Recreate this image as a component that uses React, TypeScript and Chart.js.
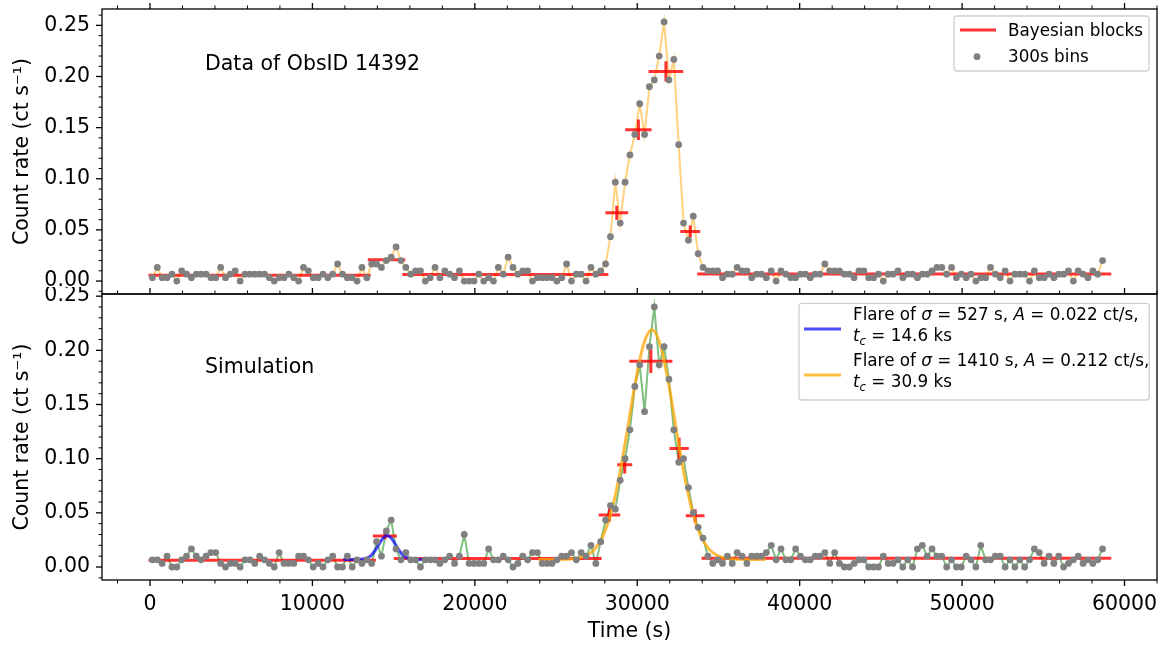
import React, { useEffect, useRef } from "react";
import { Chart, registerables } from "chart.js";

Chart.register(...registerables);

// ---------------- data ----------------
const BIN_START = 150; // s, centre of first 300 s bin
const BIN_WIDTH = 300; // s

// counts per 300 s bin, ObsID 14392
const topCounts = [
  1, 4, 1, 1, 2, 0, 3, 2, 1, 2,
  2, 2, 1, 1, 4, 1, 2, 3, 0, 2,
  2, 2, 2, 2, 1, 0, 1, 1, 2, 1,
  0, 4, 3, 1, 1, 2, 1, 2, 5, 2,
  1, 1, 0, 4, 1, 5, 5, 4, 6, 7,
  10, 6, 4, 2, 3, 3, 0, 1, 4, 1,
  3, 2, 1, 3, 0, 0, 0, 2, 0, 1,
  0, 4, 2, 7, 4, 2, 3, 3, 0, 1,
  1, 1, 1, 0, 1, 5, 0, 2, 2, 0,
  4, 2, 3, 5, 13, 29, 17, 29, 37, 43,
  52, 43, 57, 59, 66, 76, 59, 65, 40, 17,
  12, 19, 8, 4, 3, 3, 3, 1, 2, 2,
  4, 3, 3, 1, 2, 2, 1, 3, 0, 3,
  2, 1, 1, 2, 2, 1, 2, 2, 5, 3,
  3, 3, 2, 2, 1, 3, 3, 1, 1, 2,
  0, 2, 2, 3, 1, 2, 2, 1, 2, 2,
  3, 4, 4, 2, 4, 1, 2, 1, 2, 0,
  1, 1, 4, 2, 1, 3, 0, 2, 2, 2,
  0, 3, 1, 1, 2, 1, 2, 2, 3, 0,
  3, 2, 1, 3, 2, 6,
];

// counts per 300 s bin, simulation
const bottomCounts = [
  2, 2, 1, 3, 0, 0, 2, 3, 5, 3,
  2, 3, 4, 4, 1, 0, 1, 1, 0, 2,
  2, 1, 3, 2, 1, 0, 4, 1, 1, 1,
  3, 3, 2, 0, 1, 0, 2, 3, 0, 0,
  3, 0, 2, 1, 2, 1, 7, 3, 10, 13,
  5, 2, 4, 2, 2, 0, 2, 2, 2, 1,
  2, 3, 1, 3, 9, 1, 1, 1, 1, 5,
  2, 2, 3, 2, 0, 1, 3, 2, 4, 4,
  1, 1, 1, 2, 3, 3, 4, 2, 4, 3,
  6, 1, 7, 13, 17, 16, 24, 30, 38, 50,
  56, 43, 61, 72, 56, 61, 52, 38, 29, 30,
  22, 15, 11, 8, 3, 1, 2, 1, 3, 1,
  4, 3, 1, 3, 3, 3, 4, 6, 2, 5,
  2, 2, 5, 3, 2, 2, 3, 3, 4, 1,
  4, 1, 0, 0, 1, 2, 2, 0, 0, 0,
  3, 1, 1, 2, 0, 2, 0, 5, 6, 3,
  5, 3, 3, 0, 2, 0, 0, 3, 2, 0,
  6, 2, 2, 3, 3, 0, 2, 0, 2, 0,
  2, 5, 4, 1, 3, 1, 3, 0, 1, 2,
  3, 1, 2, 1, 2, 5,
];

// Bayesian blocks (top)
const topBlockEdges = [0, 13500, 15630, 28130, 29350, 30790, 32740, 33785, 59090];
const topBlockRates = [0.0057, 0.0207, 0.0063, 0.0667, 0.148, 0.205, 0.0484, 0.007];
const topBlockErrs = [0.0006, 0.002, 0.0006, 0.007, 0.0100, 0.0100, 0.006, 0.0005];

// Bayesian blocks (bottom)
const bottomBlockEdges = [0, 13815, 15105, 27720, 28860, 29600, 32075, 33080, 34050, 59090];
const bottomBlockRates = [0.0062, 0.0287, 0.0078, 0.048, 0.0944, 0.19, 0.1093, 0.0472, 0.008];
const bottomBlockErrs = [0.0006, 0.003, 0.0006, 0.006, 0.008, 0.011, 0.01, 0.006, 0.0005];

// fitted flare curves
const blueFlareT = [11900, 12600, 13100, 13350, 13600, 13850, 14100, 14350, 14600, 14850, 15100, 15350, 15600, 15850, 16100, 16600, 16800];
const blueFlareRate = [0.007, 0.007, 0.0074, 0.0083, 0.0106, 0.015, 0.021, 0.0267, 0.029, 0.0267, 0.021, 0.015, 0.0106, 0.0083, 0.0074, 0.007, 0.007];
const orangeFlareT = [23900, 24900, 25900, 26400, 26900, 27400, 27900, 28400, 28900, 29400, 29900, 30400, 30900, 31400, 31900, 32400, 32900, 33400, 33900, 34400, 34900, 35400, 35900, 36900, 37900];
const orangeFlareRate = [0.007, 0.007, 0.0074, 0.0083, 0.0108, 0.0167, 0.029, 0.051, 0.0845, 0.1274, 0.1719, 0.2061, 0.219, 0.2061, 0.1719, 0.1274, 0.0845, 0.051, 0.029, 0.0167, 0.0108, 0.0083, 0.0074, 0.007, 0.007];

// ticks
const xTicks = [0, 10000, 20000, 30000, 40000, 50000, 60000];
const yTicks = [0, 0.05, 0.1, 0.15, 0.2, 0.25];

// texts
const Y_TITLE = "Count rate (ct s\u207B\u00B9)";
const X_TITLE = "Time (s)";
const TOP_NOTE = "Data of ObsID 14392";
const BOTTOM_NOTE = "Simulation";
const LEGEND_BLOCKS = "Bayesian blocks";
const LEGEND_BINS = "300s bins";

// ---------------- layout / style ----------------
const X_MIN = -2955;
const X_MAX = 62000;
const TOP_Y = [-0.01267, 0.266];
const BOT_Y = [-0.012, 0.252];
const BOT_OFFSET = 287;
const FS = 20.5;
const LFS = 16.8;
const FAMILY = '"DejaVu Sans", "Liberation Sans", sans-serif';

const RED = "rgba(255,0,0,0.8)";
const GRAY = "rgb(128,128,128)";
const ORANGE_LINE = "rgba(255,165,0,0.5)";
const GREEN_LINE = "rgba(0,128,0,0.5)";
const BLUE_FIT = "rgba(0,0,255,0.7)";
const ORANGE_FIT = "rgba(255,165,0,0.75)";

Chart.defaults.font.family = FAMILY;
Chart.defaults.color = "#000";

function binPoints(counts: number[]) {
  return counts.map((c, i) => ({ x: BIN_START + i * BIN_WIDTH, y: c / BIN_WIDTH }));
}
function blockLine(edges: number[], rates: number[]) {
  const d: any[] = [];
  rates.forEach((r, i) => {
    d.push({ x: edges[i], y: r }, { x: edges[i + 1], y: r }, { x: edges[i + 1], y: null });
  });
  return d;
}
function blockErr(edges: number[], rates: number[], errs: number[]) {
  const d: any[] = [];
  rates.forEach((r, i) => {
    const c = (edges[i] + edges[i + 1]) / 2;
    d.push({ x: c, y: r - errs[i] }, { x: c, y: r + errs[i] }, { x: c, y: null });
  });
  return d;
}
function curve(t: number[], v: number[]) {
  return t.map((x, i) => ({ x, y: v[i] }));
}

type Run = { t: string; it?: boolean; sub?: boolean };
function drawRuns(ctx: CanvasRenderingContext2D, x: number, y: number, runs: Run[], size: number) {
  let cx = x;
  for (const r of runs) {
    const s = r.sub ? size * 0.7 : size;
    ctx.font = `${r.it ? "italic " : ""}${s}px ${FAMILY}`;
    ctx.fillText(r.t, cx, r.sub ? y + size * 0.22 : y);
    cx += ctx.measureText(r.t).width;
  }
}
function legendBox(ctx: CanvasRenderingContext2D, x: number, y: number, w: number, h: number) {
  const r = 3;
  ctx.beginPath();
  ctx.moveTo(x + r, y);
  ctx.lineTo(x + w - r, y);
  ctx.quadraticCurveTo(x + w, y, x + w, y + r);
  ctx.lineTo(x + w, y + h - r);
  ctx.quadraticCurveTo(x + w, y + h, x + w - r, y + h);
  ctx.lineTo(x + r, y + h);
  ctx.quadraticCurveTo(x, y + h, x, y + h - r);
  ctx.lineTo(x, y + r);
  ctx.quadraticCurveTo(x, y, x + r, y);
  ctx.closePath();
  ctx.fillStyle = "rgba(255,255,255,0.8)";
  ctx.fill();
  ctx.strokeStyle = "#d0d0d0";
  ctx.lineWidth = 1.3;
  ctx.stroke();
}
function legendLine(ctx: CanvasRenderingContext2D, x1: number, x2: number, y: number, color: string) {
  ctx.strokeStyle = color;
  ctx.lineWidth = 3;
  ctx.lineCap = "butt";
  ctx.beginPath();
  ctx.moveTo(x1, y);
  ctx.lineTo(x2, y);
  ctx.stroke();
}

const mplAxes = {
  id: "mplAxes",
  afterDraw(chart: any, _args: any, opts: any) {
    const ctx: CanvasRenderingContext2D = chart.ctx;
    const a = chart.chartArea;
    const xs = chart.scales.x;
    const ys = chart.scales.y;
    ctx.save();
    ctx.strokeStyle = "#000";
    const tick = (x1: number, y1: number, x2: number, y2: number, w: number) => {
      ctx.lineWidth = w;
      ctx.beginPath();
      ctx.moveTo(x1, y1);
      ctx.lineTo(x2, y2);
      ctx.stroke();
    };
    for (let i = -2; i <= 27; i++) {
      const v = i / 100;
      if (v < ys.min || v > ys.max) continue;
      const major = i % 5 === 0;
      const p = ys.getPixelForValue(v);
      tick(a.left - (major ? 6 : 3.5), p, a.left, p, major ? 1.3 : 1);
    }
    for (let i = -1; i <= 31; i++) {
      const v = i * 2000;
      if (v < xs.min || v > xs.max) continue;
      const major = i % 5 === 0;
      const L = major ? 6 : 3.5;
      const p = xs.getPixelForValue(v);
      tick(p, a.top - L, p, a.top, major ? 1.3 : 1);
      if (opts.bottomTicks) tick(p, a.bottom, p, a.bottom + L, major ? 1.3 : 1);
    }
    ctx.lineWidth = 1.3;
    ctx.strokeRect(a.left, a.top, a.right - a.left, a.bottom - a.top);

    ctx.fillStyle = "#000";
    ctx.textBaseline = "alphabetic";
    ctx.textAlign = "left";
    if (opts.panel === "top") {
      ctx.font = `${FS}px ${FAMILY}`;
      ctx.fillText(TOP_NOTE, 205, 69.5);
      legendBox(ctx, 954, 16, 195, 55);
      legendLine(ctx, 960, 996, 30, RED);
      ctx.fillStyle = GRAY;
      ctx.beginPath();
      ctx.arc(977, 56.7, 3.4, 0, Math.PI * 2);
      ctx.fill();
      ctx.fillStyle = "#000";
      ctx.font = `${LFS}px ${FAMILY}`;
      ctx.fillText(LEGEND_BLOCKS, 1008, 36);
      ctx.fillText(LEGEND_BINS, 1008, 62);
    } else {
      const o = BOT_OFFSET;
      ctx.font = `${FS}px ${FAMILY}`;
      ctx.fillText(BOTTOM_NOTE, 205, 372.5 - o);
      legendBox(ctx, 799, 303.3 - o, 350.3, 96.7);
      legendLine(ctx, 804, 841, 329 - o, BLUE_FIT);
      legendLine(ctx, 804, 841, 375 - o, ORANGE_FIT);
      ctx.fillStyle = "#000";
      drawRuns(ctx, 853, 320 - o, [
        { t: "Flare of " }, { t: "\u03C3", it: true }, { t: " = 527 s, " },
        { t: "A", it: true }, { t: " = 0.022 ct/s," },
      ], LFS);
      drawRuns(ctx, 853, 341 - o, [{ t: "t", it: true }, { t: "c", it: true, sub: true }, { t: " = 14.6 ks" }], LFS);
      drawRuns(ctx, 853, 366 - o, [
        { t: "Flare of " }, { t: "\u03C3", it: true }, { t: " = 1410 s, " },
        { t: "A", it: true }, { t: " = 0.212 ct/s," },
      ], LFS);
      drawRuns(ctx, 853, 387 - o, [{ t: "t", it: true }, { t: "c", it: true, sub: true }, { t: " = 30.9 ks" }], LFS);
    }
    ctx.restore();
  },
};

function xScale(show: boolean) {
  return {
    type: "linear",
    min: X_MIN,
    max: X_MAX,
    display: show,
    grid: { display: false, drawTicks: false },
    border: { display: false },
    ticks: { padding: 12, autoSkip: false, maxRotation: 0, color: "#000", font: { size: FS }, callback: (v: any) => String(v) },
    afterBuildTicks: (s: any) => { s.ticks = xTicks.map((v) => ({ value: v })); },
    afterFit: (s: any) => {
      s.height = show ? 68 : 0;
      s.paddingLeft = 0;
      s.paddingRight = 0;
      s.paddingTop = 0;
      s.paddingBottom = 0;
    },
    title: { display: show, text: X_TITLE, color: "#000", font: { size: FS }, padding: { top: 0, bottom: 4 } },
  };
}
function yScale(range: number[]) {
  return {
    type: "linear",
    position: "left",
    min: range[0],
    max: range[1],
    grid: { display: false, drawTicks: false },
    border: { display: false },
    ticks: { padding: 12, autoSkip: false, color: "#000", font: { size: FS }, callback: (v: any) => Number(v).toFixed(2) },
    afterBuildTicks: (s: any) => { s.ticks = yTicks.map((v) => ({ value: v })); },
    afterFit: (s: any) => {
      s.width = 102;
      s.paddingTop = 0;
      s.paddingBottom = 0;
      s.paddingLeft = 0;
      s.paddingRight = 0;
    },
    title: { display: true, text: Y_TITLE, color: "#000", font: { size: FS }, padding: { top: 10, bottom: 0 } },
  };
}

function baseOptions(panel: string, padding: any, range: number[], showX: boolean) {
  return {
    animation: false,
    responsive: false,
    maintainAspectRatio: false,
    devicePixelRatio: 1,
    events: [],
    layout: { padding },
    plugins: {
      legend: { display: false },
      tooltip: { enabled: false },
      mplAxes: { panel, bottomTicks: showX },
    },
    scales: { x: xScale(showX), y: yScale(range) },
  };
}

function pointsDs(counts: number[]) {
  return {
    data: binPoints(counts),
    showLine: false,
    pointRadius: 3.4,
    pointBackgroundColor: GRAY,
    pointBorderWidth: 0,
    order: 0,
  };
}
function lineDs(counts: number[], color: string) {
  return {
    data: binPoints(counts),
    showLine: true,
    borderColor: color,
    borderWidth: 2,
    pointRadius: 0,
    tension: 0,
    order: 4,
  };
}
function blockDs(edges: number[], rates: number[]) {
  return {
    data: blockLine(edges, rates),
    showLine: true,
    spanGaps: false,
    borderColor: RED,
    borderWidth: 3,
    borderCapStyle: "square",
    pointRadius: 0,
    order: 2,
  };
}
function errDs(edges: number[], rates: number[], errs: number[]) {
  return {
    data: blockErr(edges, rates, errs),
    showLine: true,
    spanGaps: false,
    borderColor: RED,
    borderWidth: 3,
    pointRadius: 0,
    order: 2,
  };
}
function fitDs(t: number[], v: number[], color: string) {
  return {
    data: curve(t, v),
    showLine: true,
    borderColor: color,
    borderWidth: 3,
    pointRadius: 0,
    cubicInterpolationMode: "monotone",
    order: 1,
  };
}

export default function App() {
  const topRef = useRef<HTMLCanvasElement>(null);
  const botRef = useRef<HTMLCanvasElement>(null);

  useEffect(() => {
    const top = new Chart(topRef.current as HTMLCanvasElement, {
      type: "scatter",
      data: {
        datasets: [
          pointsDs(topCounts),
          blockDs(topBlockEdges, topBlockRates),
          errDs(topBlockEdges, topBlockRates, topBlockErrs),
          lineDs(topCounts, ORANGE_LINE),
        ] as any,
      },
      options: baseOptions("top", { top: 9, right: 6, bottom: 7, left: 0 }, TOP_Y, false) as any,
      plugins: [mplAxes as any],
    });
    const bottom = new Chart(botRef.current as HTMLCanvasElement, {
      type: "scatter",
      data: {
        datasets: [
          pointsDs(bottomCounts),
          fitDs(blueFlareT, blueFlareRate, BLUE_FIT),
          fitDs(orangeFlareT, orangeFlareRate, ORANGE_FIT),
          blockDs(bottomBlockEdges, bottomBlockRates),
          errDs(bottomBlockEdges, bottomBlockRates, bottomBlockErrs),
          lineDs(bottomCounts, GREEN_LINE),
        ] as any,
      },
      options: baseOptions("bottom", { top: 7, right: 6, bottom: 0, left: 0 }, BOT_Y, true) as any,
      plugins: [mplAxes as any],
    });
    return () => {
      top.destroy();
      bottom.destroy();
    };
  }, []);

  return (
    <div style={{ position: "fixed", left: 0, top: 0, width: 1163, height: 648, background: "#fff" }}>
      <canvas ref={topRef} width={1163} height={301} style={{ position: "absolute", left: 0, top: 0 }} />
      <canvas ref={botRef} width={1163} height={361} style={{ position: "absolute", left: 0, top: BOT_OFFSET }} />
    </div>
  );
}
